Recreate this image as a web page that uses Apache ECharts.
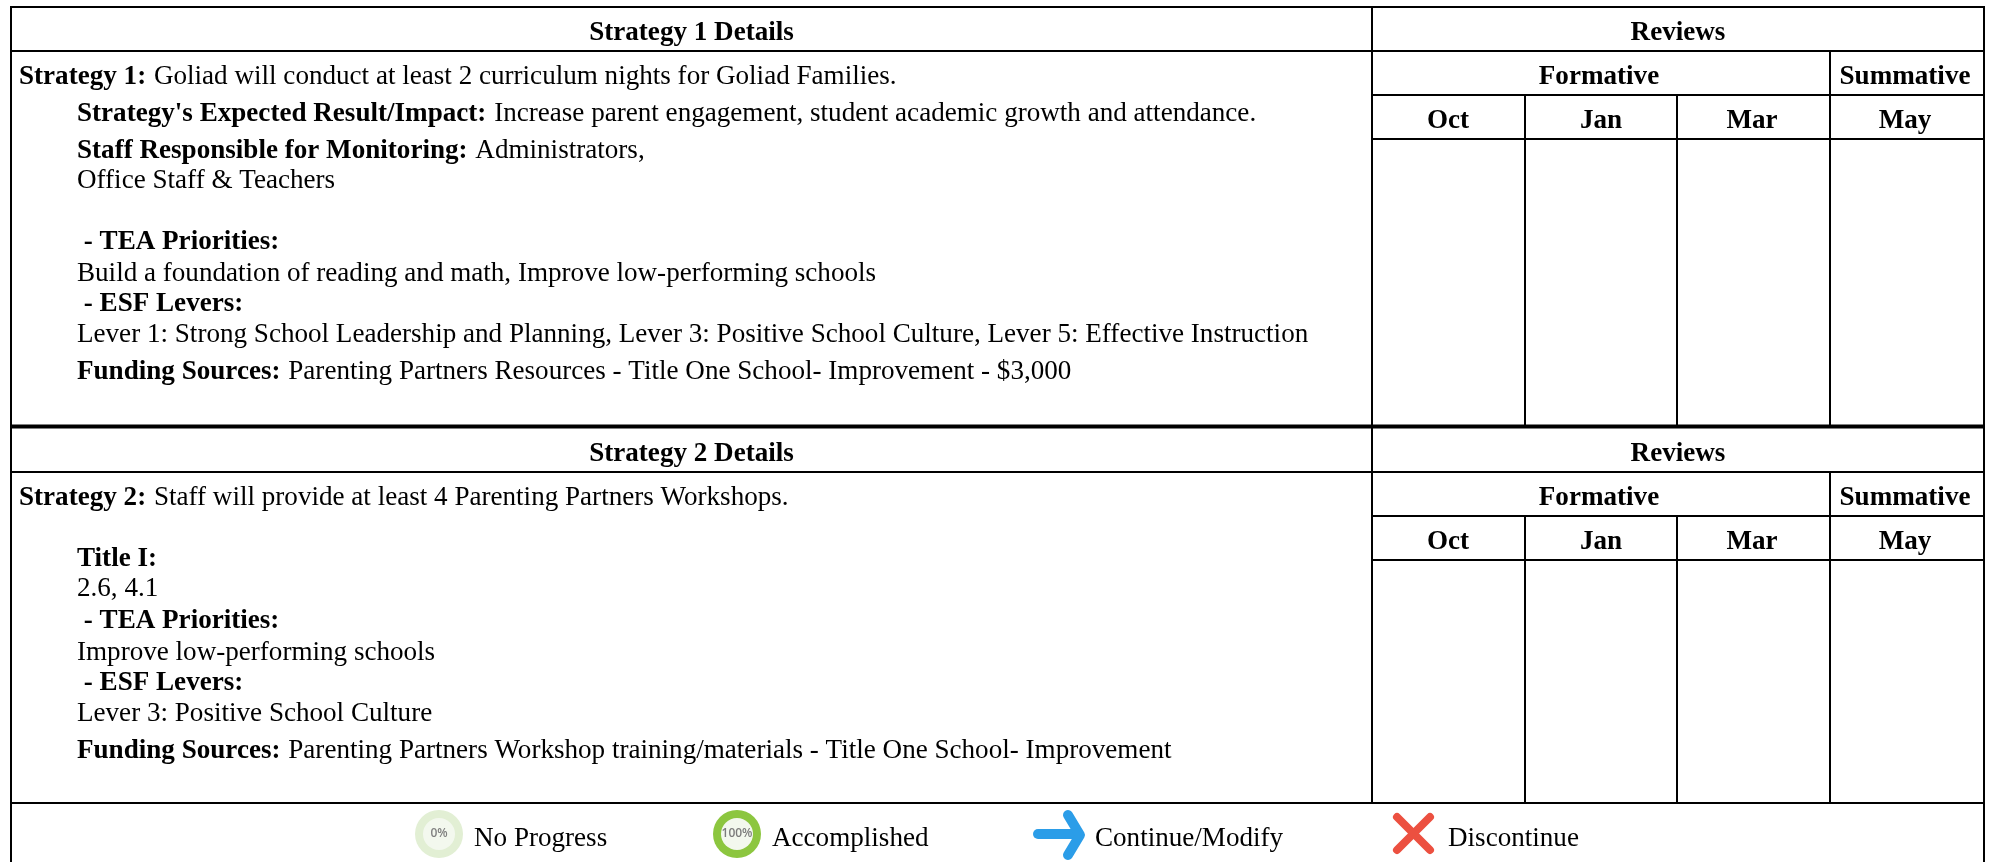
<!DOCTYPE html>
<html>
<head>
<meta charset="utf-8">
<title>Strategy Details</title>
<style>
html,body{margin:0;padding:0;background:#fff}
#main{width:1993px;height:862px}
</style>
<script src="https://cdn.jsdelivr.net/npm/echarts@6/dist/echarts.min.js"></script>
</head>
<body>
<div id="main"></div>
<script>
// {b|..} marks the bold part of a line
const strategy1Title = 'Strategy 1 Details';
const strategy1Lines = [
    '{b|Strategy 1:} Goliad will conduct at least 2 curriculum nights for Goliad Families.',
    "{b|Strategy's Expected Result/Impact:} Increase parent engagement, student academic growth and attendance.",
    '{b|Staff Responsible for Monitoring:} Administrators,',
    'Office Staff & Teachers',
    '{b| - TEA Priorities:}',
    'Build a foundation of reading and math, Improve low-performing schools',
    '{b| - ESF Levers:}',
    'Lever 1: Strong School Leadership and Planning, Lever 3: Positive School Culture, Lever 5: Effective Instruction',
    '{b|Funding Sources:} Parenting Partners Resources - Title One School- Improvement - $3,000'
];
const strategy2Title = 'Strategy 2 Details';
const strategy2Lines = [
    '{b|Strategy 2:} Staff will provide at least 4 Parenting Partners Workshops.',
    '{b|Title I:}',
    '2.6, 4.1',
    '{b| - TEA Priorities:}',
    'Improve low-performing schools',
    '{b| - ESF Levers:}',
    'Lever 3: Positive School Culture',
    '{b|Funding Sources:} Parenting Partners Workshop training/materials - Title One School- Improvement'
];
const reviewsTitle = 'Reviews';
const formativeTitle = 'Formative';
const summativeTitle = 'Summative';
const months = ['Oct', 'Jan', 'Mar', 'May'];
const legendLabels = ['No Progress', 'Accomplished', 'Continue/Modify', 'Discontinue'];

// layout of the table, in pixels
const xLeft = 11, xSplit = 1372, xRight = 1984;
const monthX = [1372, 1525, 1677, 1830, 1984];
const monthCenter = [1448, 1601, 1752, 1905];
const font = '"Liberation Serif", "Times New Roman", serif';
const fontSize = 27.1;
const black = '#000';

const elements = [];

function line(x1, y1, x2, y2, width) {
    elements.push({
        type: 'line',
        shape: { x1: x1, y1: y1, x2: x2, y2: y2 },
        style: { stroke: black, lineWidth: width || 2 }
    });
}

function label(text, x, y, bold, align) {
    elements.push({
        type: 'text',
        x: x,
        y: y,
        style: {
            text: text,
            fill: black,
            font: (bold ? 'bold ' : '') + fontSize + 'px ' + font,
            align: align || 'left',
            verticalAlign: 'middle',
            rich: { b: { font: 'bold ' + fontSize + 'px ' + font, fill: black, padding: [0, 1, 0, 0] } }
        }
    });
}

function block(top, bottom, title, lines, lineY, lineX) {
    line(xLeft, top + 45, xRight, top + 45);
    line(xSplit, top + 89, xRight, top + 89);
    line(xSplit, top + 133, xRight, top + 133);
    line(xSplit, top, xSplit, bottom);
    line(monthX[3], top + 45, monthX[3], bottom);
    line(monthX[1], top + 89, monthX[1], bottom);
    line(monthX[2], top + 89, monthX[2], bottom);

    label(title, (xLeft + xSplit) / 2, top + 27, true, 'center');
    label(reviewsTitle, (xSplit + xRight) / 2, top + 27, true, 'center');
    label(formativeTitle, 1599, top + 71, true, 'center');
    label(summativeTitle, monthCenter[3], top + 71, true, 'center');
    months.forEach(function (m, i) {
        label(m, monthCenter[i], top + 115, true, 'center');
    });
    lines.forEach(function (t, i) {
        label(t, lineX[i], lineY[i], false);
    });
}

const y1 = [77, 114, 151, 181, 242, 274, 304, 335, 372];
const x1 = [19, 77, 77, 77, 77, 77, 77, 77, 77];
const y2 = [498, 559, 589, 621, 653, 683, 714, 751];
const x2 = [19, 77, 77, 77, 77, 77, 77, 77];

block(6, 427, strategy1Title, strategy1Lines, y1, x1);
block(427, 803, strategy2Title, strategy2Lines, y2, x2);

line(xLeft - 1, 7, xRight + 1, 7);
line(xLeft, 6, xLeft, 862);
line(xRight, 6, xRight, 862);
line(xLeft, 426.5, xRight, 426.5, 4);
line(xLeft, 803, xRight, 803, 2);

// legend icons
function ring(cx, cy, color, inner, txt, txtColor) {
    elements.push({ type: 'circle', shape: { cx: cx, cy: cy, r: 24 }, style: { fill: color } });
    elements.push({ type: 'circle', shape: { cx: cx, cy: cy, r: 16 }, style: { fill: inner } });
    elements.push({
        type: 'text', x: cx, y: cy,
        style: { text: txt, fill: txtColor, font: '600 12px "Open Sans", sans-serif', align: 'center', verticalAlign: 'middle' }
    });
}
ring(439, 834, '#e2efd4', '#f3f8ee', '0%', '#808080');
ring(737, 834, '#8cc63f', '#f3f8ee', '100%', '#7c7c7c');

const arrowBlue = '#2b9de8';
elements.push({
    type: 'line',
    shape: { x1: 1038, y1: 834, x2: 1078, y2: 834 },
    style: { stroke: arrowBlue, lineWidth: 10, lineCap: 'round' }
});
elements.push({
    type: 'polyline',
    shape: { points: [[1068, 815], [1080, 835], [1068, 855]] },
    style: { stroke: arrowBlue, lineWidth: 10, lineCap: 'round', lineJoin: 'round', fill: null }
});

const crossRed = '#ec5040';
elements.push({
    type: 'line', shape: { x1: 1397, y1: 817, x2: 1430, y2: 850 },
    style: { stroke: crossRed, lineWidth: 8, lineCap: 'round' }
});
elements.push({
    type: 'line', shape: { x1: 1430, y1: 817, x2: 1397, y2: 850 },
    style: { stroke: crossRed, lineWidth: 8, lineCap: 'round' }
});

const legendX = [474, 772, 1095, 1448];
legendLabels.forEach(function (t, i) {
    label(t, legendX[i], 838.5, false);
});

const myChart = echarts.init(document.getElementById('main'));
myChart.setOption({
    backgroundColor: '#fff',
    animation: false,
    graphic: { elements: elements }
});
</script>
</body>
</html>
